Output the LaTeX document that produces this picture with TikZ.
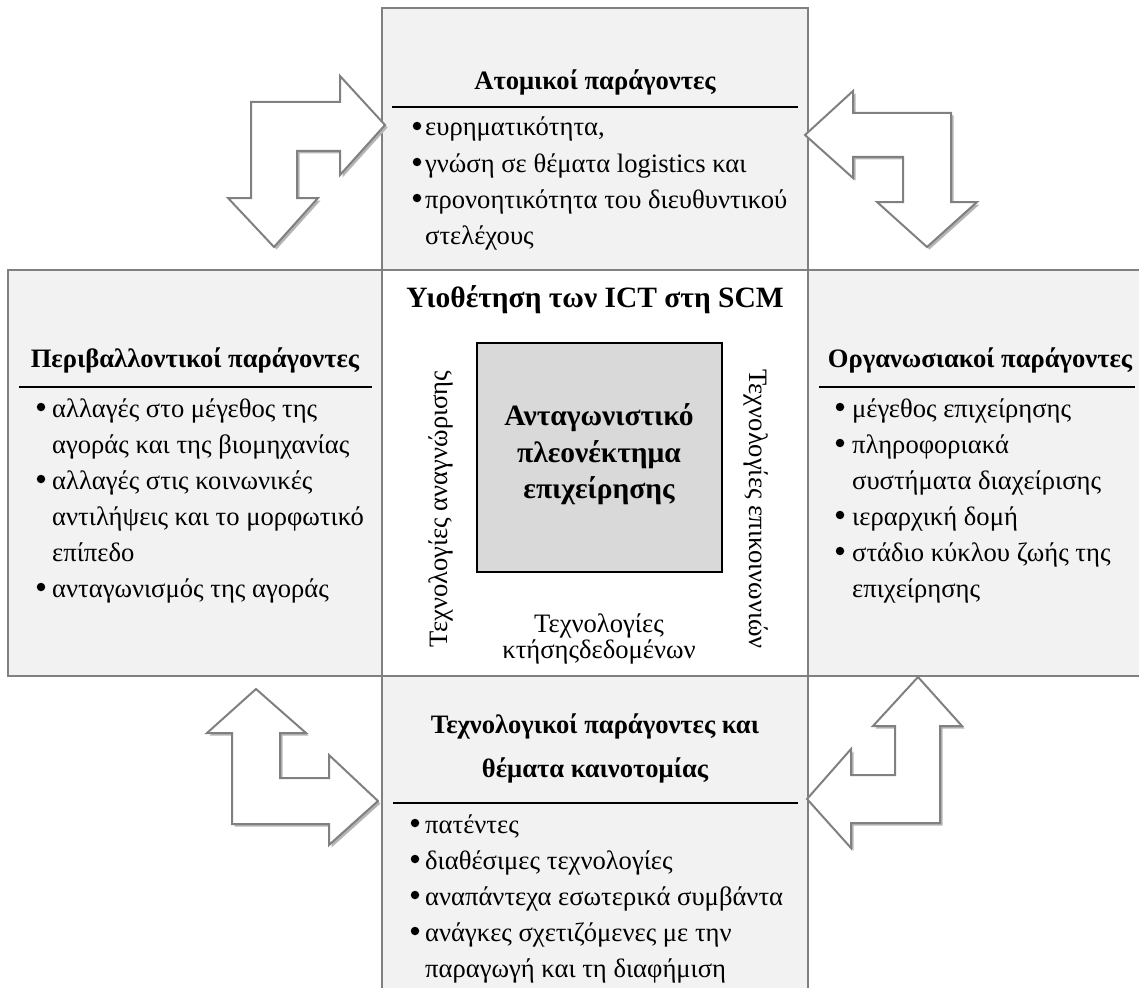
\documentclass[tikz,border=0pt]{standalone}
\usepackage{fontspec}
\setmainfont{Liberation Serif}
\definecolor{edgegray}{HTML}{808080}
\definecolor{cellfill}{HTML}{F2F2F2}
\definecolor{corefill}{HTML}{D9D9D9}
\definecolor{shadowgray}{HTML}{B5B5B5}
\newcommand\bodyfont{\fontsize{26.6}{36}\selectfont}
\newcommand\headfont{\fontsize{26.6}{36}\selectfont\bfseries}
\newcommand\bigheadfont{\fontsize{29.5}{36}\selectfont\bfseries}
% the four bent double arrows, drawn with the style given as argument
\newcommand\cornerarrows[1]{%
  \path[#1] (385,125) -- (340,76) -- (340,102) -- (251,102) -- (251,198) -- (228,198)
     -- (274,247) -- (318,198) -- (297,198) -- (297,151) -- (340,151) -- (340,175) -- cycle;
  \path[#1] (805,135) -- (853,91) -- (853,113) -- (951,113) -- (951,202) -- (977,202)
     -- (927,247) -- (877,202) -- (903,202) -- (903,157) -- (853,157) -- (853,178) -- cycle;
  \path[#1] (256,689) -- (207,733) -- (232,733) -- (232,824) -- (329,824) -- (329,845)
     -- (378,801) -- (329,755) -- (329,778) -- (280,778) -- (280,733) -- (306,733) -- cycle;
  \path[#1] (918,677) -- (873,726) -- (895,726) -- (895,775) -- (851,775) -- (851,749)
     -- (807,799) -- (851,848) -- (851,823) -- (940,823) -- (940,726) -- (962,726) -- cycle;
}
\begin{document}
\begin{tikzpicture}[x=1pt,y=-1pt,
  cell/.style={draw=edgegray, line width=2pt, fill=cellfill},
  blank/.style={draw=edgegray, line width=2pt, fill=white},
  core/.style={draw=black, line width=2pt, fill=corefill},
  rule/.style={draw=black, line width=1.3pt},
  head/.style={anchor=base, inner sep=0pt, font=\headfont},
  entry/.style={anchor=base west, inner sep=0pt, font=\bodyfont},
  dot/.style={circle, fill=black, inner sep=0pt, minimum size=8.5pt, yshift=10pt},
  side/.style={anchor=base, inner sep=0pt, font=\bodyfont},
  bentarrow/.style={draw=edgegray, line width=2pt, fill=white, line join=miter},
  arrowshadow/.style={fill=shadowgray, draw=none}
]
\useasboundingbox (0,0) rectangle (1139,987);
\begin{scope}
\clip (0,0) rectangle (1139,987);

% cells of the cross-shaped table
\path[cell]  (382,8)   rectangle (808,270);
\path[cell]  (8,270)   rectangle (382,676);
\path[cell]  (808,270) rectangle (1170,676);
\path[cell]  (382,676) rectangle (808,1010);
\path[blank] (382,270) rectangle (808,676);

% separator rules under the headings
\draw[rule] (392,107) -- (798,107);
\draw[rule] (19,387)  -- (372,387);
\draw[rule] (819,387) -- (1135,387);
\draw[rule] (393,803) -- (798,803);

% top cell
\node[head] (tophead) at (595,90) {Ατομικοί παράγοντες};
\foreach \y in {136,172,208} \node[dot] (topdot-\y) at (417,\y) {};
\foreach \y/\s [count=\i] in {136/{ευρηματικότητα,},172/{γνώση σε θέματα logistics και},208/{προνοητικότητα του διευθυντικού},244/{στελέχους}}
  \node[entry] (topline-\i) at (425,\y) {\s};

% left cell
\node[head] (lefthead) at (195,367) {Περιβαλλοντικοί παράγοντες};
\foreach \y in {417,489,597} \node[dot] (leftdot-\y) at (41,\y) {};
\foreach \y/\s [count=\i] in {417/{αλλαγές στο μέγεθος της},453/{αγοράς και της βιομηχανίας},489/{αλλαγές στις κοινωνικές},525/{αντιλήψεις και το μορφωτικό},561/{επίπεδο},597/{ανταγωνισμός της αγοράς}}
  \node[entry] (leftline-\i) at (52,\y) {\s};

% right cell
\node[head] (righthead) at (980,367) {Οργανωσιακοί παράγοντες};
\foreach \y in {417,453,525,561} \node[dot] (rightdot-\y) at (840,\y) {};
\foreach \y/\s [count=\i] in {417/{μέγεθος επιχείρησης},453/{πληροφοριακά},489/{συστήματα διαχείρισης},525/{ιεραρχική δομή},561/{στάδιο κύκλου ζωής της},597/{επιχείρησης}}
  \node[entry] (rightline-\i) at (852,\y) {\s};

% bottom cell
\node[head] (bottomhead-1) at (595,733) {Τεχνολογικοί παράγοντες και};
\node[head] (bottomhead-2) at (595,777) {θέματα καινοτομίας};
\foreach \y in {833,869,905,941} \node[dot] (bottomdot-\y) at (415,\y) {};
\foreach \y/\s [count=\i] in {833/{πατέντες},869/{διαθέσιμες τεχνολογίες},905/{αναπάντεχα εσωτερικά συμβάντα},941/{ανάγκες σχετιζόμενες με την},977/{παραγωγή και τη διαφήμιση}}
  \node[entry] (bottomline-\i) at (425,\y) {\s};

% centre cell
\node[anchor=base, inner sep=0pt, font=\bigheadfont] (midhead) at (595,307) {Υιοθέτηση των ICT στη SCM};
\node[core, minimum width=245pt, minimum height=229pt, inner sep=0pt] (advantage) at (599.5,457.5) {};
\node[anchor=base, inner sep=0pt, font=\bigheadfont] (adv-1) at (599,425) {Ανταγωνιστικό};
\node[anchor=base, inner sep=0pt, font=\bigheadfont] (adv-2) at (599,462) {πλεονέκτημα};
\node[anchor=base, inner sep=0pt, font=\bigheadfont] (adv-3) at (599,498) {επιχείρησης};
\node[side, rotate=90]  (recog) at (447,509) {Τεχνολογίες αναγνώρισης};
\node[side, rotate=-90] (comm)  at (749,509) {Τεχνολογίες επικοινωνιών};
\node[side] (acq-1) at (599,632) {Τεχνολογίες};
\node[side] (acq-2) at (599,658) {κτήσηςδεδομένων};

% corner arrows with their soft shadow
\begin{scope}[shift={(2.5,2.5)}]
  \cornerarrows{arrowshadow}
\end{scope}
\cornerarrows{bentarrow}
\end{scope}
\end{tikzpicture}
\end{document}
